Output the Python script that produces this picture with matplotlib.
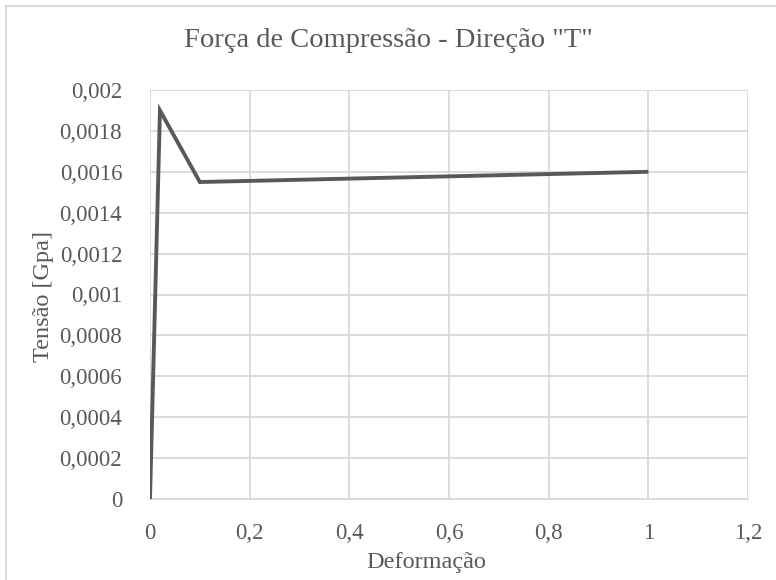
import matplotlib
matplotlib.use("Agg")
import matplotlib.pyplot as plt
from matplotlib.ticker import FuncFormatter
from matplotlib.lines import Line2D

# Stress-strain curve, compression in direction "T"
deformacao = [0.0, 0.02, 0.1, 1.0]
tensao = [0.0, 0.0019, 0.00155, 0.0016]

x_ticks = [0, 0.2, 0.4, 0.6, 0.8, 1.0, 1.2]
y_ticks = [0, 0.0002, 0.0004, 0.0006, 0.0008, 0.001, 0.0012, 0.0014,
           0.0016, 0.0018, 0.002]

title = 'Força de Compressão - Direção "T"'
x_label = "Deformação"
y_label = "Tensão [Gpa]"

TEXT = "#595959"
GRID = "#d9d9d9"
plt.rcParams["font.family"] = ["Liberation Serif", "DejaVu Serif"]

W, H = 776, 580
fig = plt.figure(figsize=(W / 100, H / 100), dpi=100)
ax = fig.add_axes([150 / W, (H - 499) / H, (748 - 150) / W, (499 - 90) / H])

ax.plot(deformacao, tensao, color="#595959", lw=2.8, solid_joinstyle="miter",
        solid_capstyle="butt", zorder=3)

ax.set_xlim(0, 1.2)
ax.set_ylim(0, 0.002)
ax.set_xticks(x_ticks)
ax.set_yticks(y_ticks)


def comma_fmt(v, pos):
    s = f"{v:.4f}".rstrip("0").rstrip(".")
    if s == "-0":
        s = "0"
    return s.replace(".", ",")


ax.xaxis.set_major_formatter(FuncFormatter(comma_fmt))
ax.yaxis.set_major_formatter(FuncFormatter(comma_fmt))

ax.grid(True, color=GRID, lw=1.3)
ax.set_axisbelow(True)
for side in ("top", "right", "left"):
    ax.spines[side].set_visible(False)
ax.spines["bottom"].set_color(GRID)
ax.spines["bottom"].set_linewidth(1.3)
ax.tick_params(length=0, labelsize=16.5, colors=TEXT)
ax.tick_params(axis="y", pad=20)
ax.tick_params(axis="x", pad=17)

# axis titles and chart title, placed in figure pixels
fig.text(426 / W, 1 - 568 / H, x_label, fontsize=17.5, color=TEXT,
         ha="center", va="baseline")
fig.text(44 / W, 1 - 296 / H, y_label, fontsize=17.5, color=TEXT,
         ha="center", va="center", rotation=90)
fig.text(388 / W, 1 - 47 / H, title, fontsize=20.5, color=TEXT,
         ha="center", va="baseline")

# chart-area border
fig.add_artist(Line2D([6 / W, 6 / W], [0, 1 - 6 / H], transform=fig.transFigure,
                      color=GRID, lw=1.3))
fig.add_artist(Line2D([6 / W, 1], [1 - 6 / H, 1 - 6 / H], transform=fig.transFigure,
                      color=GRID, lw=1.3))

fig.savefig("out.png", dpi=100)
